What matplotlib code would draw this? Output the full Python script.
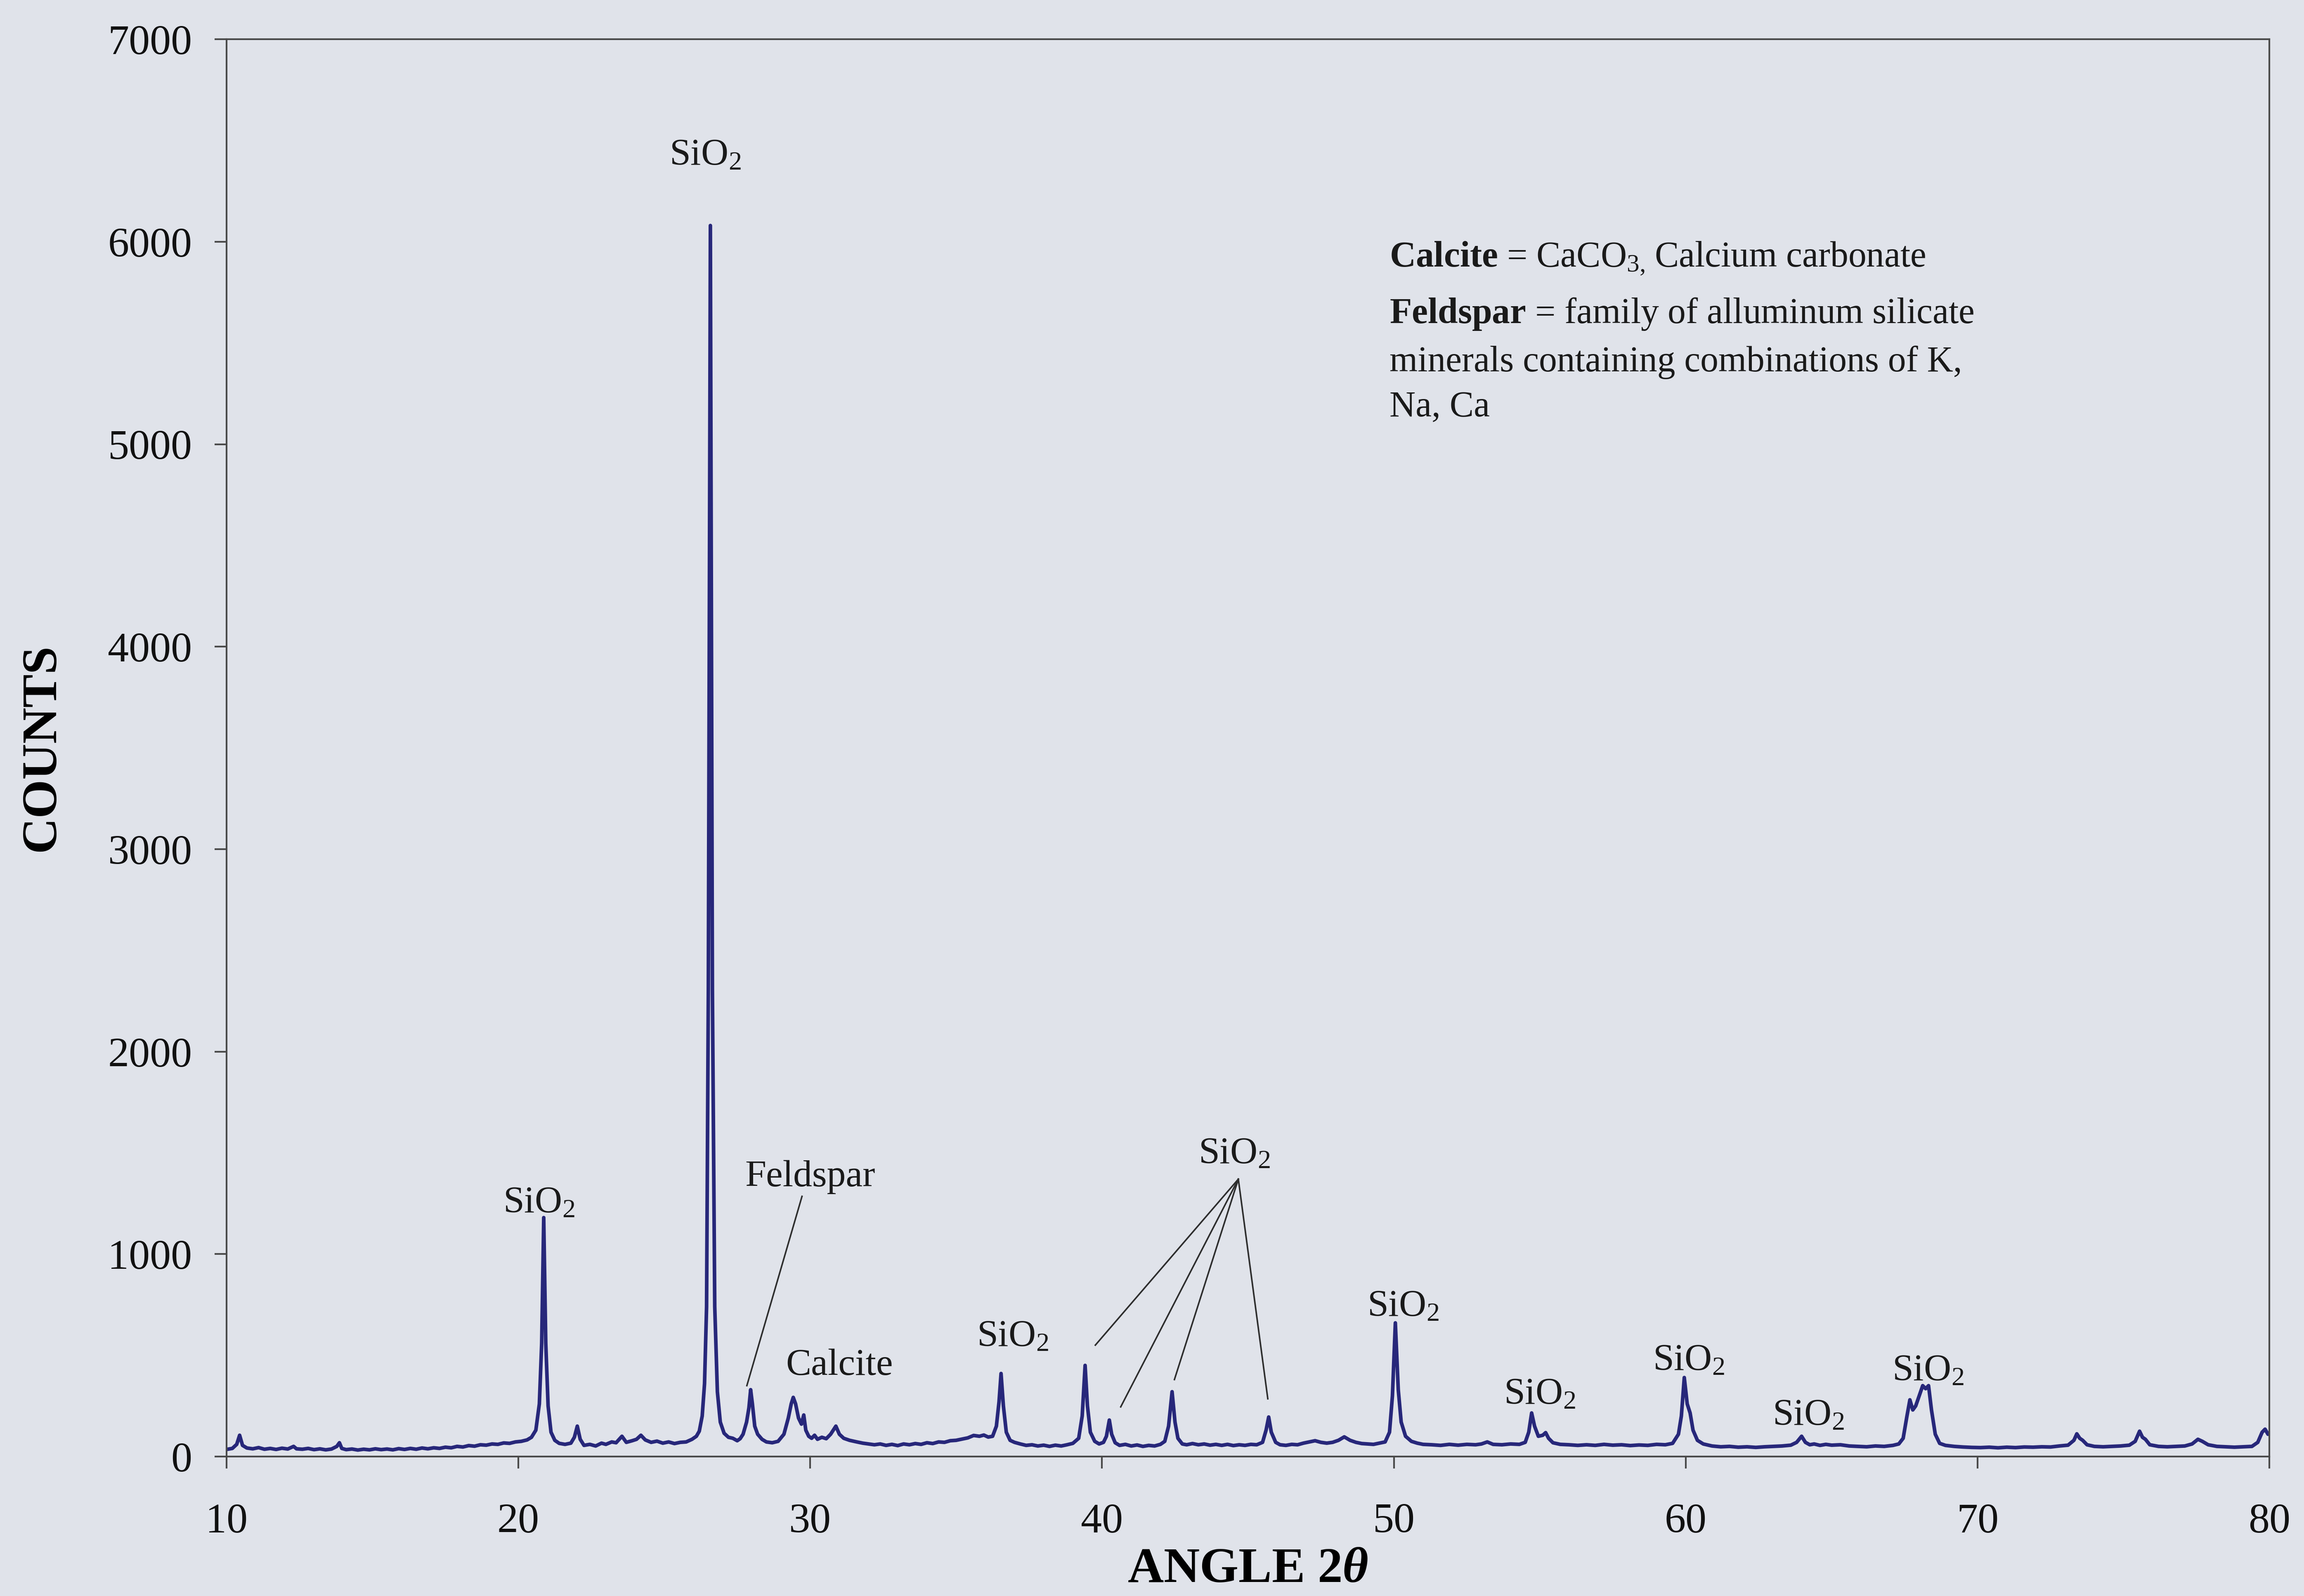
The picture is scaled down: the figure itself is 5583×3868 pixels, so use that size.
import matplotlib
matplotlib.use('agg')
import matplotlib.pyplot as plt

angle = [10.0, 10.2, 10.35, 10.45, 10.55, 10.7, 10.9, 11.1, 11.3, 11.5, 11.7, 11.9, 12.1, 12.3, 12.4,
         12.6, 12.8, 13.0, 13.2, 13.4, 13.6, 13.78, 13.87, 13.95, 14.1, 14.3, 14.5, 14.7, 14.9, 15.1,
         15.3, 15.5, 15.7, 15.9, 16.1, 16.3, 16.5, 16.7, 16.9, 17.1, 17.3, 17.5, 17.7, 17.9, 18.1,
         18.3, 18.5, 18.7, 18.9, 19.1, 19.3, 19.5, 19.7, 19.9, 20.1, 20.3, 20.45, 20.6, 20.72, 20.8,
         20.87, 20.94, 21.02, 21.12, 21.25, 21.4, 21.6, 21.8, 21.92, 22.02, 22.12, 22.25, 22.45, 22.65,
         22.85, 23.0, 23.2, 23.35, 23.55, 23.7, 23.9, 24.05, 24.2, 24.35, 24.55, 24.75, 24.95, 25.15,
         25.35, 25.55, 25.75, 25.95, 26.1, 26.2, 26.3, 26.38, 26.45, 26.51, 26.58, 26.65, 26.73, 26.82,
         26.92, 27.05, 27.2, 27.35, 27.5, 27.6, 27.7, 27.82, 27.9, 27.96, 28.02, 28.1, 28.2, 28.35,
         28.5, 28.7, 28.9, 29.1, 29.25, 29.35, 29.42, 29.5, 29.6, 29.7, 29.78, 29.85, 29.95, 30.05,
         30.15, 30.25, 30.4, 30.55, 30.7, 30.88, 31.0, 31.15, 31.35, 31.6, 31.8, 32.0, 32.2, 32.4,
         32.6, 32.8, 33.0, 33.2, 33.4, 33.6, 33.8, 34.0, 34.2, 34.4, 34.6, 34.8, 35.0, 35.2, 35.4,
         35.6, 35.8, 35.95, 36.1, 36.25, 36.38, 36.47, 36.54, 36.62, 36.72, 36.85, 37.0, 37.2, 37.4,
         37.6, 37.8, 38.0, 38.2, 38.4, 38.6, 38.8, 39.0, 39.2, 39.32, 39.42, 39.5, 39.6, 39.75, 39.9,
         40.05, 40.15, 40.25, 40.33, 40.45, 40.6, 40.8, 41.0, 41.2, 41.4, 41.6, 41.8, 42.0, 42.15,
         42.28, 42.4, 42.5, 42.6, 42.75, 42.9, 43.1, 43.3, 43.5, 43.7, 43.9, 44.1, 44.3, 44.5, 44.7,
         44.9, 45.1, 45.3, 45.5, 45.62, 45.71, 45.8, 45.95, 46.1, 46.3, 46.5, 46.7, 46.9, 47.1, 47.3,
         47.5, 47.7, 47.9, 48.1, 48.3, 48.5, 48.7, 48.9, 49.1, 49.3, 49.5, 49.7, 49.85, 49.95, 50.05,
         50.15, 50.25, 50.4, 50.6, 50.8, 51.0, 51.3, 51.6, 51.9, 52.2, 52.5, 52.8, 53.0, 53.2, 53.4,
         53.7, 54.0, 54.3, 54.5, 54.62, 54.72, 54.82, 54.95, 55.1, 55.2, 55.3, 55.45, 55.7, 56.0,
         56.3, 56.6, 56.9, 57.2, 57.5, 57.8, 58.1, 58.4, 58.7, 59.0, 59.3, 59.55, 59.75, 59.85, 59.95,
         60.05, 60.15, 60.25, 60.4, 60.6, 60.9, 61.2, 61.5, 61.8, 62.1, 62.4, 62.7, 63.0, 63.3, 63.6,
         63.8, 63.97, 64.1, 64.25, 64.4, 64.6, 64.8, 65.0, 65.3, 65.6, 65.9, 66.2, 66.5, 66.8, 67.1,
         67.3, 67.45, 67.58, 67.68, 67.78, 67.88, 68.0, 68.12, 68.22, 68.32, 68.42, 68.55, 68.7, 68.9,
         69.2, 69.5, 69.8, 70.1, 70.4, 70.7, 71.0, 71.3, 71.6, 71.9, 72.2, 72.5, 72.8, 73.1, 73.3,
         73.4, 73.5, 73.6, 73.75, 74.0, 74.3, 74.6, 74.9, 75.2, 75.4, 75.55, 75.65, 75.75, 75.9, 76.2,
         76.5, 76.8, 77.1, 77.35, 77.55, 77.7, 77.9, 78.2, 78.5, 78.8, 79.1, 79.4, 79.6, 79.75, 79.85,
         79.95, 80.0]
counts = [35, 40, 60, 105, 55, 42, 38, 44, 36, 40, 35, 41, 37, 50, 38,
          36, 40, 34, 38, 33, 37, 50, 68, 40, 34, 37, 32, 36, 33, 38,
          34, 37, 33, 39, 35, 40, 36, 42, 38, 43, 40, 46, 43, 50, 47,
          54, 51, 58, 56, 62, 60, 67, 65, 72, 75, 82, 95, 130, 260, 560,
          1180, 560, 250, 120, 80, 65, 60, 66, 95, 150, 85, 55, 60, 52,
          66, 60, 72, 68, 100, 70, 78, 85, 105, 82, 70, 76, 66, 72,
          64, 70, 72, 85, 100, 125, 200, 360, 740, 2300, 6080, 2300, 740, 320,
          170, 115, 95, 90, 78, 88, 110, 170, 240, 330, 260, 150, 110, 85,
          72, 68, 75, 110, 190, 260, 292, 260, 190, 160, 205, 130, 100, 90,
          105, 85, 95, 88, 110, 150, 110, 90, 80, 72, 66, 62, 58, 62,
          55, 60, 54, 62, 58, 64, 60, 68, 64, 72, 70, 78, 80, 86, 92,
          104, 100, 106, 96, 100, 150, 270, 410, 250, 120, 80, 70, 62, 55,
          58, 52, 56, 50, 56, 52, 58, 65, 90, 200, 450, 250, 120, 75, 62,
          70, 100, 180, 110, 68, 55, 60, 52, 57, 50, 55, 52, 60, 75,
          150, 320, 170, 90, 62, 58, 64, 58, 62, 56, 60, 55, 60, 54, 58,
          55, 60, 58, 70, 130, 195, 120, 70, 58, 55, 60, 58, 66, 72, 78,
          70, 66, 70, 80, 97, 80, 70, 64, 62, 60, 66, 72, 120, 300, 660,
          330, 170, 100, 75, 66, 60, 58, 55, 60, 56, 60, 58, 62, 72, 60,
          58, 62, 60, 70, 120, 215, 150, 100, 105, 118, 90, 68, 60, 58,
          55, 58, 55, 60, 56, 58, 54, 57, 55, 60, 58, 65, 110, 200, 390,
          260, 215, 130, 80, 62, 52, 48, 50, 46, 48, 45, 48, 50, 52, 56,
          70, 100, 70, 58, 62, 55, 60, 56, 58, 52, 50, 48, 52, 50, 55,
          62, 90, 200, 280, 230, 250, 300, 350, 335, 350, 230, 110, 65, 55,
          50, 47, 45, 44, 46, 43, 46, 44, 47, 46, 48, 47, 52, 56, 80,
          112, 90, 80, 58, 50, 48, 50, 52, 56, 75, 125, 95, 85, 58, 50,
          48, 50, 52, 62, 85, 75, 58, 50, 48, 46, 48, 50, 70, 120, 135,
          110, 115]

# peak labels: (x, baseline y, text)
label_x = [20.7, 26.4, 36.94, 44.53, 50.31, 55.0, 60.1, 64.2, 68.3, 30.0, 31.0]
label_y = [1205, 6380, 546, 1448, 695, 260, 427, 155, 377, 1334, 403]
label_text = ['SiO$_2$'] * 9 + ['Feldspar', 'Calcite']

# leader lines: start (label end) -> peak
leader_start = [(29.72, 1285), (44.67, 1370), (44.67, 1370), (44.67, 1370), (44.67, 1370)]
leader_end = [(27.83, 350), (39.77, 550), (40.64, 245), (42.48, 380), (45.68, 285)]

notes = [r'$\mathbf{Calcite}$ = CaCO$_{3,}\,$Calcium carbonate',
         r'$\mathbf{Feldspar}$ = family of alluminum silicate',
         'minerals containing combinations of K,',
         'Na, Ca']
notes_y = [5875, 5598, 5360, 5138]

BG = '#e0e3ea'
plt.rcParams['font.family'] = 'Liberation Serif'
plt.rcParams['mathtext.fontset'] = 'custom'
plt.rcParams['mathtext.rm'] = 'Liberation Serif'
plt.rcParams['mathtext.it'] = 'Liberation Serif:italic'
plt.rcParams['mathtext.bf'] = 'Liberation Serif:bold'
plt.rcParams['mathtext.bfit'] = 'Liberation Serif:bold:italic'
plt.rcParams['xtick.major.pad'] = 20
plt.rcParams['ytick.major.pad'] = 13

fig = plt.figure(figsize=(5583 / 300, 3868 / 300), dpi=300, facecolor=BG)
ax = fig.add_axes([0.0983, 0.0874, 0.8867, 0.888])
ax.set_facecolor(BG)

ax.plot(angle, counts, color='#27277a', linewidth=2.1, solid_joinstyle='round')

for (x0, y0), (x1, y1) in zip(leader_start, leader_end):
    ax.plot([x0, x1], [y0, y1], color='#2e2e2e', linewidth=0.9)

for x, y, t in zip(label_x, label_y, label_text):
    ax.text(x, y, t, fontsize=22, ha='center', va='baseline', color='#1a1a1a')

for t, y in zip(notes, notes_y):
    ax.text(49.85, y, t, fontsize=21, ha='left', va='baseline', color='#1a1a1a')

# Limits
ax.set_xlim(10, 80)
ax.set_ylim(0, 7000)
ax.set_xticks(range(10, 81, 10))
ax.set_yticks(range(0, 7001, 1000))
for s in ax.spines.values():
    s.set_color('#4a4a4a')
    s.set_linewidth(1.0)
ax.tick_params(axis='both', direction='out', length=7, width=1.0, color='#4a4a4a',
               labelsize=24.5, labelcolor='#111111')

# Labels
ax.set_xlabel(r'ANGLE 2$\mathbfit{\theta}$', fontsize=29, fontweight='bold', va='top')
ax.xaxis.set_label_coords(0.5, -0.064)
ax.set_ylabel('COUNTS', fontsize=29, fontweight='bold', labelpad=25)

# Save
fig.savefig('out.png', dpi=300, facecolor=BG)
